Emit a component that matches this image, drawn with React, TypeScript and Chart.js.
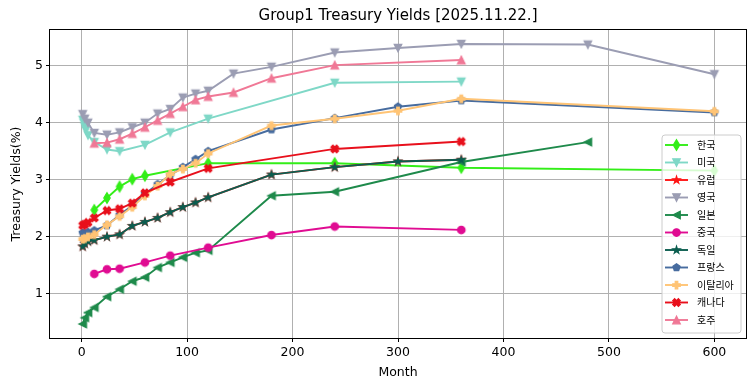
import React, { useEffect, useRef } from 'react';
import { Chart, registerables } from 'chart.js';

Chart.register(...registerables);

const chartTitle = 'Group1 Treasury Yields [2025.11.22.]';
const xAxisLabel = 'Month';
const yAxisLabel = 'Treasury Yields(%)';
const xTicks = [0, 100, 200, 300, 400, 500, 600];
const yTicks = [1, 2, 3, 4, 5];

const seriesNames = ['한국', '미국', '유럽', '영국', '일본', '중국', '독일', '프랑스', '이탈리아', '캐나다', '호주'];

const krMonths = [12, 24, 36, 48, 60, 120, 240, 360, 600];
const krYields = [2.47, 2.68, 2.88, 3.01, 3.07, 3.29, 3.29, 3.21, 3.16];

const usMonths = [1, 2, 3, 4, 6, 12, 24, 36, 60, 84, 120, 240, 360];
const usYields = [4.05, 4.0, 3.93, 3.87, 3.78, 3.66, 3.53, 3.5, 3.61, 3.83, 4.07, 4.7, 4.72];

const deMonths = [1, 3, 6, 12, 24, 36, 48, 60, 72, 84, 96, 108, 120, 180, 240, 300, 360];
const deYields = [1.83, 1.88, 1.92, 1.94, 2.0, 2.04, 2.19, 2.26, 2.33, 2.43, 2.52, 2.6, 2.69, 3.09, 3.22, 3.32, 3.35];

const euMonths = [1, 3, 6, 12, 24, 36, 48, 60, 72, 84, 96, 108, 120, 180, 240, 300, 360];
const euYields = [1.83, 1.88, 1.92, 1.94, 2.0, 2.04, 2.19, 2.26, 2.33, 2.43, 2.52, 2.6, 2.69, 3.09, 3.22, 3.32, 3.35];

const ukMonths = [1, 3, 6, 12, 24, 36, 48, 60, 72, 84, 96, 108, 120, 144, 180, 240, 300, 360, 480, 600];
const ukYields = [4.15, 4.07, 4.0, 3.82, 3.79, 3.83, 3.92, 4.0, 4.16, 4.24, 4.44, 4.51, 4.56, 4.86, 4.98, 5.23, 5.31, 5.38, 5.37, 4.85];

const jpMonths = [1, 3, 6, 12, 24, 36, 48, 60, 72, 84, 96, 108, 120, 180, 240, 360, 480];
const jpYields = [0.47, 0.58, 0.67, 0.76, 0.95, 1.08, 1.22, 1.29, 1.46, 1.55, 1.64, 1.72, 1.76, 2.72, 2.79, 3.31, 3.66];

const cnMonths = [12, 24, 36, 60, 84, 120, 180, 240, 360];
const cnYields = [1.35, 1.43, 1.44, 1.55, 1.67, 1.81, 2.03, 2.18, 2.12];

const frMonths = [1, 3, 6, 12, 24, 36, 48, 60, 72, 84, 96, 108, 120, 180, 240, 300, 360, 600];
const frYields = [2.07, 2.06, 2.08, 2.11, 2.2, 2.38, 2.55, 2.75, 2.92, 3.08, 3.22, 3.36, 3.5, 3.88, 4.08, 4.28, 4.39, 4.18];

const itMonths = [1, 3, 6, 12, 24, 36, 48, 60, 72, 84, 96, 108, 120, 180, 240, 300, 360, 600];
const itYields = [1.96, 1.97, 2.0, 2.04, 2.21, 2.36, 2.52, 2.72, 2.89, 3.1, 3.19, 3.29, 3.46, 3.95, 4.07, 4.21, 4.42, 4.2];

const caMonths = [1, 3, 6, 12, 24, 36, 48, 60, 84, 120, 240, 360];
const caYields = [2.2, 2.22, 2.25, 2.33, 2.46, 2.49, 2.59, 2.77, 2.96, 3.2, 3.54, 3.67];

const auMonths = [12, 24, 36, 48, 60, 72, 84, 96, 108, 120, 144, 180, 240, 360];
const auYields = [3.64, 3.65, 3.71, 3.81, 3.92, 4.04, 4.16, 4.28, 4.4, 4.46, 4.53, 4.78, 5.01, 5.1];

const seriesMonths = [krMonths, usMonths, euMonths, ukMonths, jpMonths, cnMonths, deMonths, frMonths, itMonths, caMonths, auMonths];
const seriesYields = [krYields, usYields, euYields, ukYields, jpYields, cnYields, deYields, frYields, itYields, caYields, auYields];

// styles
const seriesColors = ['#33ee18', '#7fd8c7', '#ff1515', '#9b9db3', '#1e8a4b', '#e00c92', '#0c5e50', '#476c9f', '#ffc475', '#e8101c', '#f07896'];
const seriesMarkers = ['d', 'v', '*', 'v', '<', 'o', '*', 'p', 'P', 'X', '^'];

const FONT = '"DejaVu Sans", sans-serif';
const KFONT = '"Noto Sans CJK KR", "DejaVu Sans", sans-serif';

function drawMarker(ctx: CanvasRenderingContext2D, type: string, cx: number, cy: number, color: string) {
  const h = 3.75;
  ctx.save();
  ctx.translate(cx, cy);
  ctx.beginPath();
  const poly = (pts: number[][]) => {
    pts.forEach(([x, y], i) => (i ? ctx.lineTo(x, y) : ctx.moveTo(x, y)));
    ctx.closePath();
  };
  switch (type) {
    case 'o':
      ctx.arc(0, 0, h, 0, Math.PI * 2);
      break;
    case '^':
      poly([[0, -h], [-h, h], [h, h]]);
      break;
    case 'v':
      poly([[0, h], [-h, -h], [h, -h]]);
      break;
    case '<':
      poly([[-h, 0], [h, -h], [h, h]]);
      break;
    case 'd': {
      const a = 0.7071 * 2 * h;
      poly([[0, -a], [0.6 * a, 0], [0, a], [-0.6 * a, 0]]);
      break;
    }
    case '*': {
      const pts: number[][] = [];
      for (let i = 0; i < 10; i++) {
        const r = i % 2 === 0 ? h : h * 0.381966;
        const ang = -Math.PI / 2 + (i * Math.PI) / 5;
        pts.push([r * Math.cos(ang), r * Math.sin(ang)]);
      }
      poly(pts);
      break;
    }
    case 'p': {
      const pts: number[][] = [];
      for (let i = 0; i < 5; i++) {
        const ang = -Math.PI / 2 + (i * 2 * Math.PI) / 5;
        pts.push([h * Math.cos(ang), h * Math.sin(ang)]);
      }
      poly(pts);
      break;
    }
    case 'P': {
      const w = h / 3;
      poly([[-w, -h], [w, -h], [w, -w], [h, -w], [h, w], [w, w], [w, h], [-w, h], [-w, w], [-h, w], [-h, -w], [-w, -w]]);
      break;
    }
    case 'X': {
      const s = h / 2;
      const raw = [[-1, -2], [0, -1], [1, -2], [2, -1], [1, 0], [2, 1], [1, 2], [0, 1], [-1, 2], [-2, 1], [-1, 0], [-2, -1]];
      poly(raw.map(([x, y]) => [x * s, y * s]));
      break;
    }
  }
  ctx.fillStyle = color;
  ctx.fill();
  ctx.lineWidth = 1.25;
  ctx.strokeStyle = color;
  ctx.lineJoin = 'miter';
  ctx.stroke();
  ctx.restore();
}

function markerCanvas(type: string, color: string): HTMLCanvasElement {
  const c = document.createElement('canvas');
  c.width = 16;
  c.height = 16;
  const ctx = c.getContext('2d')!;
  drawMarker(ctx, type, 8, 8, color);
  return c;
}

const framePlugin = {
  id: 'frameAndExtras',
  afterDatasetsDraw(chart: any) {
    const { ctx, chartArea } = chart;
    const { left, top, right, bottom } = chartArea;
    ctx.save();
    ctx.strokeStyle = '#000';
    ctx.lineWidth = 1;
    ctx.strokeRect(Math.round(left) - 0.5, Math.round(top) - 0.5, Math.round(right - left) + 1, Math.round(bottom - top) + 1);
    ctx.restore();
  },
  afterDraw(chart: any) {
    const { ctx, chartArea } = chart;
    const { left, right, bottom } = chartArea;
    ctx.save();
    // title
    ctx.fillStyle = '#000';
    ctx.font = `15px ${FONT}`;
    ctx.textAlign = 'center';
    ctx.textBaseline = 'middle';
    ctx.fillText(chartTitle, (left + right) / 2, 16);

    // legend
    const n = seriesNames.length;
    const rowH = 17.5;
    const boxRight = right - 5;
    const boxBottom = bottom - 5;
    const boxLeft = boxRight - 79;
    const boxTop = boxBottom - (n * rowH + 5.5);
    const r = 3;
    ctx.beginPath();
    ctx.moveTo(boxLeft + r, boxTop);
    ctx.lineTo(boxRight - r, boxTop);
    ctx.quadraticCurveTo(boxRight, boxTop, boxRight, boxTop + r);
    ctx.lineTo(boxRight, boxBottom - r);
    ctx.quadraticCurveTo(boxRight, boxBottom, boxRight - r, boxBottom);
    ctx.lineTo(boxLeft + r, boxBottom);
    ctx.quadraticCurveTo(boxLeft, boxBottom, boxLeft, boxBottom - r);
    ctx.lineTo(boxLeft, boxTop + r);
    ctx.quadraticCurveTo(boxLeft, boxTop, boxLeft + r, boxTop);
    ctx.closePath();
    ctx.fillStyle = 'rgba(255,255,255,0.8)';
    ctx.fill();
    ctx.strokeStyle = '#cccccc';
    ctx.lineWidth = 1;
    ctx.stroke();

    for (let i = 0; i < n; i++) {
      const y = boxTop + 10 + i * rowH;
      const x0 = boxLeft + 3;
      const x1 = x0 + 23;
      ctx.beginPath();
      ctx.moveTo(x0, y);
      ctx.lineTo(x1, y);
      ctx.strokeStyle = seriesColors[i];
      ctx.lineWidth = 1.9;
      ctx.stroke();
      drawMarker(ctx, seriesMarkers[i], (x0 + x1) / 2, y, seriesColors[i]);
      ctx.fillStyle = '#000';
      ctx.font = `10px ${KFONT}`;
      ctx.textAlign = 'left';
      ctx.textBaseline = 'middle';
      ctx.fillText(seriesNames[i], x1 + 9, y);
    }
    ctx.restore();
  },
};

export default function App() {
  const ref = useRef<HTMLCanvasElement | null>(null);

  useEffect(() => {
    if (!ref.current) return;
    const all = seriesYields.flat();
    const yMin = Math.min(...all);
    const yMax = Math.max(...all);
    const pad = (yMax - yMin) * 0.05;
    const n = seriesNames.length;

    const datasets = seriesNames.map((name, i) => ({
      label: name,
      data: seriesMonths[i].map((m, j) => ({ x: m, y: seriesYields[i][j] })),
      borderColor: seriesColors[i],
      backgroundColor: seriesColors[i],
      borderWidth: 1.9,
      pointStyle: markerCanvas(seriesMarkers[i], seriesColors[i]),
      pointRadius: 4,
      pointHoverRadius: 4,
      fill: false,
      tension: 0,
      order: n - i,
    }));

    const tickFont = { family: FONT, size: 12.5 };

    const chart = new Chart(ref.current, {
      type: 'line',
      data: { datasets },
      plugins: [framePlugin],
      options: {
        animation: false,
        responsive: false,
        devicePixelRatio: 1,
        events: [],
        layout: { padding: { top: 30, right: 9, left: 0, bottom: 0 } },
        plugins: {
          legend: { display: false },
          tooltip: { enabled: false },
          title: { display: false },
        },
        scales: {
          x: {
            type: 'linear',
            min: -30,
            max: 630,
            afterBuildTicks: (s: any) => {
              s.ticks = xTicks.map((v) => ({ value: v }));
            },
            afterFit: (s: any) => {
              s.height = 53;
            },
            grid: { color: '#b0b0b0', lineWidth: 1, drawTicks: true, tickLength: 4, tickColor: '#000' },
            border: { display: false },
            ticks: { color: '#000', font: tickFont, padding: 3, maxRotation: 0, autoSkip: false },
            title: { display: true, text: xAxisLabel, color: '#000', font: tickFont, padding: { top: 0, bottom: 10.5 } },
          },
          y: {
            type: 'linear',
            min: yMin - pad,
            max: yMax + pad,
            afterBuildTicks: (s: any) => {
              s.ticks = yTicks.map((v) => ({ value: v }));
            },
            afterFit: (s: any) => {
              s.width = 50;
            },
            grid: { color: '#b0b0b0', lineWidth: 1, drawTicks: true, tickLength: 4, tickColor: '#000' },
            border: { display: false },
            ticks: { color: '#000', font: tickFont, padding: 3, autoSkip: false },
            title: { display: true, text: yAxisLabel, color: '#000', font: tickFont, padding: { top: 9.5, bottom: 0 } },
          },
        },
      } as any,
    });
    return () => chart.destroy();
  }, []);

  return (
    <div style={{ position: 'absolute', left: 0, top: 0, width: 755, height: 391, background: '#fff' }}>
      <canvas ref={ref} width={755} height={391} style={{ width: 755, height: 391, display: 'block' }} />
    </div>
  );
}
